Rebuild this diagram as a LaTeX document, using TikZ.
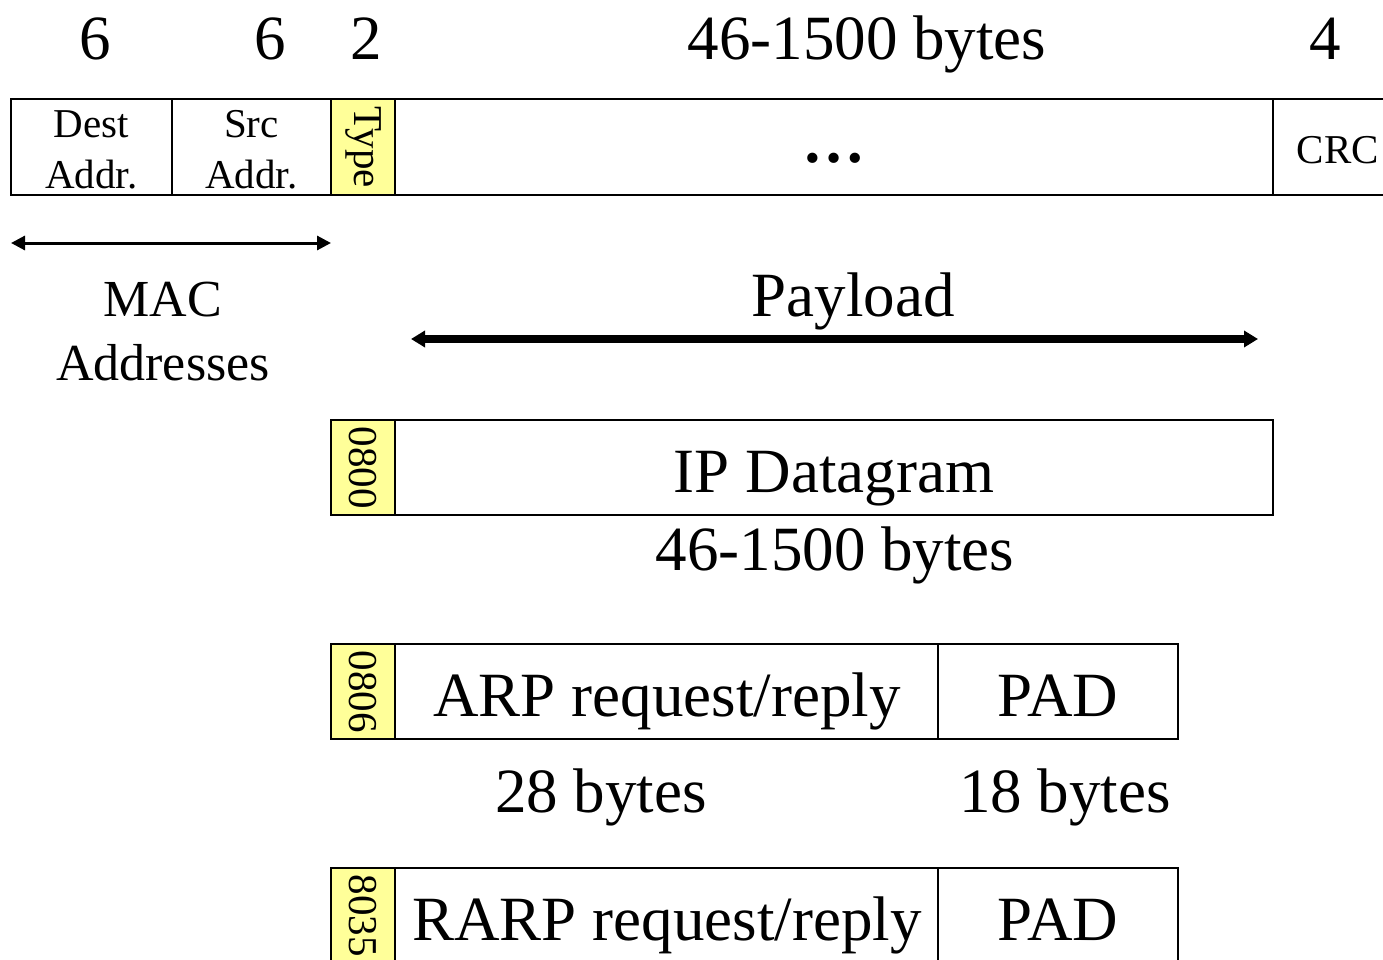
\documentclass[tikz,border=0pt]{standalone}
\usepackage{fontspec}
\setmainfont{Liberation Serif}
\usetikzlibrary{arrows.meta}
\definecolor{typefill}{RGB}{255,255,153}
\tikzset{
  fld/.style={draw=black, line width=2.6pt, fill=white},
  typefld/.style={draw=black, line width=2.6pt, fill=typefill},
  big/.style={font=\fontsize{63}{70}\selectfont, inner sep=0pt, anchor=base},
  mid/.style={font=\fontsize{52}{60}\selectfont, inner sep=0pt, anchor=base},
  small/.style={font=\fontsize{41}{46}\selectfont, inner sep=0pt, anchor=base},
  vert/.style={font=\fontsize{41}{46}\selectfont, inner sep=0pt, rotate=-90},
  span/.style={line width=3pt, {Triangle[length=14pt,width=14pt]}-{Triangle[length=14pt,width=14pt]}},
  payspan/.style={line width=8pt, {Triangle[length=14pt,width=16pt]}-{Triangle[length=14pt,width=16pt]}},
}
\begin{document}
\begin{tikzpicture}[x=1pt,y=-1pt]
\useasboundingbox (0,0) rectangle (1383,960);
\clip (0,0) rectangle (1383,960);

% field sizes
\node[big] (n6a) at (95,60) {6};
\node[big] (n6b) at (270,60) {6};
\node[big] (n2) at (366,60) {2};
\node[big] (nbytes) at (867,60) {46-1500 bytes};
\node[big] (n4) at (1325,60) {4};

% Ethernet frame
\draw[fld] (11,99) rectangle (172,195);
\draw[fld] (172,99) rectangle (331,195);
\draw[typefld] (331,99) rectangle (395,195);
\draw[fld] (395,99) rectangle (1273,195);
\draw[fld] (1273,99) rectangle (1400,195);
\node[small] (dest1) at (91.5,138) {Dest};
\node[small] (dest2) at (91.5,189) {Addr.};
\node[small] (src1) at (251.5,138) {Src};
\node[small] (src2) at (251.5,189) {Addr.};
\node[vert] (type) at (363,147) {Type};
\node[big] (dots) at (834,163) {\textbf{\dots}};
\node[small] (crc) at (1338,164) {CRC};

% MAC address span
\coordinate (macL) at (11,243);
\coordinate (macR) at (331,243);
\draw[span] (macL) -- (macR);
\node[mid] (mac1) at (163,316) {MAC};
\node[mid] (mac2) at (163,380) {Addresses};

% payload span
\node[big] (payload) at (853,316) {Payload};
\coordinate (payL) at (411,339);
\coordinate (payR) at (1258,339);
\draw[payspan] (payL) -- (payR);

% IP datagram
\draw[typefld] (331,420) rectangle (395,515);
\draw[fld] (395,420) rectangle (1273,515);
\node[vert] (t0800) at (363,467.5) {0800};
\node[big] (ip) at (834,492) {IP Datagram};
\node[big] (ipbytes) at (835,570) {46-1500 bytes};

% ARP
\draw[typefld] (331,644) rectangle (395,739);
\draw[fld] (395,644) rectangle (938,739);
\draw[fld] (938,644) rectangle (1178,739);
\node[vert] (t0806) at (363,691.5) {0806};
\node[big] (arp) at (667,716) {ARP request/reply};
\node[big] (pad1) at (1058,716) {PAD};
\node[big] (b28) at (601,812) {28 bytes};
\node[big] (b18) at (1065,812) {18 bytes};

% RARP
\draw[typefld] (331,868) rectangle (395,963);
\draw[fld] (395,868) rectangle (938,963);
\draw[fld] (938,868) rectangle (1178,963);
\node[vert] (t8035) at (363,915.5) {8035};
\node[big] (rarp) at (667,940) {RARP request/reply};
\node[big] (pad2) at (1058,940) {PAD};
\end{tikzpicture}
\end{document}
